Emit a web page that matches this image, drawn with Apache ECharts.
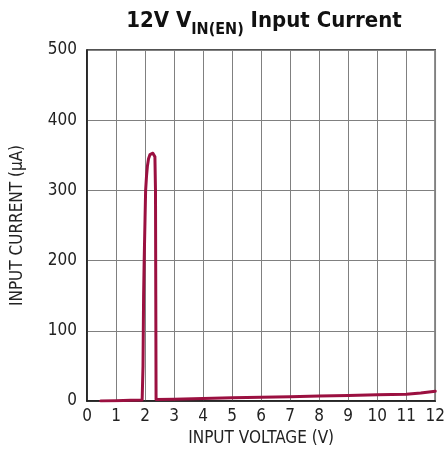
<!DOCTYPE html>
<html>
<head>
<meta charset="utf-8">
<script src="https://cdn.jsdelivr.net/npm/echarts@6/dist/echarts.min.js"></script>
<style>
  html, body { margin: 0; padding: 0; background: #fff; }
  #chart { width: 448px; height: 460px; }
</style>
</head>
<body>
<div id="chart"></div>
<script>
// Input current versus input voltage on the 12V VIN(EN) pin
const voltage = [0.47, 1.0, 1.5, 1.9, 1.93, 1.95, 1.97, 2.0, 2.02, 2.05, 2.08, 2.12, 2.17, 2.22, 2.27, 2.31, 2.34, 2.36, 2.37, 2.38, 2.4, 3, 4, 5, 6, 7, 8, 9, 10, 11, 11.5, 12];
const current = [0, 0.5, 1, 1.5, 50, 150, 200, 260, 300, 320, 334, 345, 351, 353, 353, 352, 348, 300, 150, 2, 2, 2.5, 3.5, 4.5, 5.5, 6, 7, 8, 9, 9.5, 11.5, 14];
const xTicks = [0, 1, 2, 3, 4, 5, 6, 7, 8, 9, 10, 11, 12];
const yTicks = [0, 100, 200, 300, 400, 500];

const FONT = "'Liberation Sans Narrow', 'DejaVu Sans Condensed', 'Liberation Sans', sans-serif";
const points = voltage.map((v, i) => [v, current[i]]);

const chart = echarts.init(document.getElementById('chart'), null, { renderer: 'canvas' });
chart.setOption({
  animation: false,
  title: {
    text: '{a|12V V}{s|IN(EN)}{a| Input Current}',
    left: 259,
    top: 1,
    textAlign: 'center',
    textStyle: {
      rich: {
        a: { fontFamily: FONT, fontWeight: 'bold', fontSize: 22, color: '#111', verticalAlign: 'bottom', lineHeight: 26 },
        s: { fontFamily: FONT, fontWeight: 'bold', fontSize: 16, color: '#111', verticalAlign: 'bottom', padding: [0, 0, -6, 0], lineHeight: 26 }
      }
    }
  },
  grid: {
    left: 87, right: 10, top: 50, bottom: 59,
    show: true, borderColor: '#1a1a1a', borderWidth: 1.5, backgroundColor: 'transparent'
  },
  xAxis: {
    type: 'value',
    min: xTicks[0], max: xTicks[xTicks.length - 1], interval: 1,
    name: 'INPUT VOLTAGE (V)',
    nameLocation: 'middle', nameGap: 29,
    nameTextStyle: { fontFamily: FONT, fontSize: 17, color: '#222' },
    axisLine: { show: true, lineStyle: { color: '#1a1a1a', width: 1.5 } },
    axisTick: { show: false },
    axisLabel: { fontFamily: FONT, fontSize: 17, color: '#222', margin: 7 },
    splitLine: { show: true, lineStyle: { color: '#808080', width: 1 } }
  },
  yAxis: {
    type: 'value',
    min: yTicks[0], max: yTicks[yTicks.length - 1], interval: 100,
    name: 'INPUT CURRENT (µA)',
    nameLocation: 'middle', nameGap: 61,
    nameTextStyle: { fontFamily: FONT, fontSize: 17, color: '#222' },
    axisLine: { show: true, lineStyle: { color: '#1a1a1a', width: 1.5 } },
    axisTick: { show: false },
    axisLabel: { fontFamily: FONT, fontSize: 17, color: '#222', margin: 10 },
    splitLine: { show: true, lineStyle: { color: '#808080', width: 1 } }
  },
  series: [{
    type: 'line',
    data: points,
    showSymbol: false,
    symbol: 'none',
    lineStyle: { color: '#9b1040', width: 3, join: 'round', cap: 'round' },
    z: 5
  }]
});
</script>
</body>
</html>
